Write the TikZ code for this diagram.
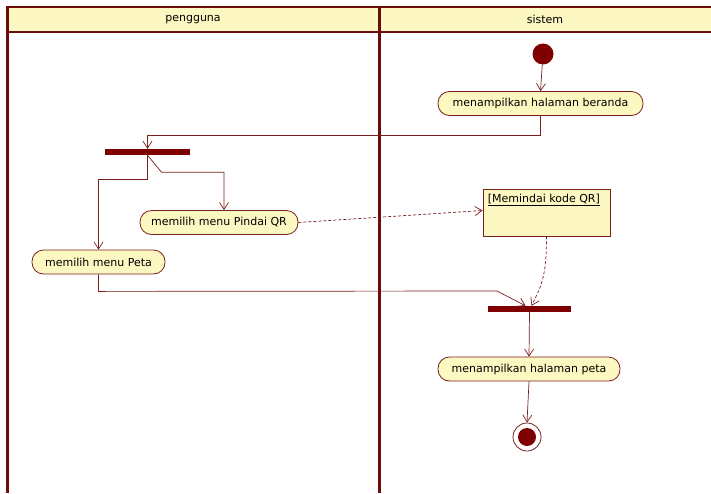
\documentclass[tikz,border=0pt]{standalone}
\usepackage{fontspec}
\setmainfont{DejaVu Sans}
\usetikzlibrary{arrows.meta}
\definecolor{lane}{HTML}{6E0B0B}
\definecolor{maroonfill}{HTML}{7E0000}
\definecolor{wire}{HTML}{7A1E1E}
\definecolor{paper}{HTML}{FDF8C2}
\begin{document}
\begin{tikzpicture}[x=1pt,y=-1pt,
  font=\fontsize{11}{13}\selectfont,
  action/.style={draw=wire, fill=paper, rectangle, rounded corners=11.5pt, line width=0.8pt,
    minimum height=24pt, inner xsep=5pt, inner ysep=0pt},
  bar/.style={fill=maroonfill, minimum width=85pt, minimum height=6pt, inner sep=0pt},
  flow/.style={draw=wire, line width=0.7pt, rounded corners=0pt, -{Straight Barb[length=7pt,width=9pt]}},
  dflow/.style={flow, dash pattern=on 3pt off 2pt},
  lanerule/.style={draw=lane, line width=3pt}]
  \useasboundingbox (0,0) rectangle (711,493);
  \fill[white] (0,0) rectangle (711,493);

  % swimlane header and borders
  \fill[paper] (7,7) rectangle (711,32);
  \draw[draw=lane, line width=2pt] (7,7) -- (711,7);
  \draw[draw=lane, line width=2pt] (7,32) -- (711,32);
  \draw[lanerule] (7,6) -- (7,493);
  \draw[lanerule] (379,6) -- (379,493);
  \node (lane1) at (193,19.5) {pengguna};
  \node (lane2) at (545,19.5) {sistem};

  % nodes
  \node[circle, fill=maroonfill, minimum size=21pt, inner sep=0pt] (start) at (543,54) {};
  \node[action, minimum width=205pt] (beranda) at (540.5,103.5) {menampilkan halaman beranda};
  \node[bar] (fork1) at (147.5,152) {};
  \node[action, minimum width=158pt] (pindai) at (219,222.5) {memilih menu Pindai QR};
  \node[action, minimum width=133pt] (peta) at (98.5,262) {memilih menu Peta};
  \node[draw=wire, fill=paper, line width=0.8pt, minimum width=127pt, minimum height=47pt,
        inner sep=0pt] (obj) at (546.5,212.5) {};
  \node[anchor=north west, inner sep=0pt] (objlabel) at ([xshift=5pt,yshift=-5pt]obj.north west)
        {\underline{[Memindai kode QR]}};
  \node[bar, minimum width=83pt] (fork2) at (529.5,309) {};
  \node[action, minimum width=182pt] (hpeta) at (529,369) {menampilkan halaman peta};
  \node[circle, draw=wire, fill=white, line width=0.8pt, minimum size=28pt, inner sep=0pt] (end) at (527,437) {};
  \fill[maroonfill] (end.center) circle (9pt);

  % connectors
  \draw[flow] (start) -- (beranda.north);
  \draw[flow] (beranda.south) -- ++(0,19) -| (fork1.north);
  \draw[flow] (fork1.south) -- ++(0,24) -| (peta.north);
  \draw[flow] (fork1.south) -- ++(14,17) -| ([xshift=5pt]pindai.north);
  \draw[dflow] (pindai.east) -- ([yshift=2pt]obj.west);
  \draw[dflow] (obj.south) .. controls +(0,40) and +(10,-20) .. ([xshift=2pt]fork2.north);
  \coordinate (bend) at (497,291);
  \draw[flow] (peta.south) -- ++(0,17) -- (bend) -- ([xshift=-4pt]fork2.north);
  \draw[flow] (fork2.south) -- (hpeta.north);
  \draw[flow] (hpeta.south) -- (end.north);
\end{tikzpicture}
\end{document}
